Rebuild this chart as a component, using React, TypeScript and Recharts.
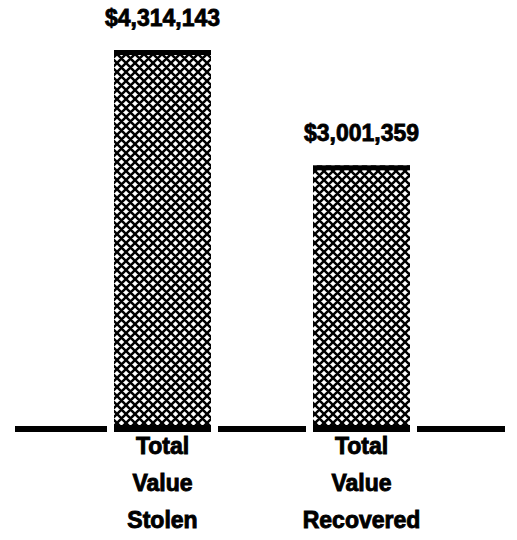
import { Bar, BarChart, LabelList, ReferenceLine, XAxis, YAxis } from 'recharts'

const categories = ['Total Value Stolen', 'Total Value Recovered']
const values = [4314143, 3001359]

const data = categories.map((name, i) => ({ name, value: values[i] }))

const FONT = '"Liberation Sans", Arial, Helvetica, sans-serif'

const fmt = (v: number) => `$${v.toLocaleString('en-US')}`

// crosshatched bar with a heavy black cap and foot; white knockout breaks the baseline
function HatchBar(props: any) {
  const { x, y, width, height, index } = props
  const id = `xhatch-${index}`
  return (
    <g>
      <defs>
        <pattern id={id} patternUnits="userSpaceOnUse" width={9} height={9}>
          <rect width={9} height={9} fill="#fff" />
          <path
            d="M-2,2 L2,-2 M0,9 L9,0 M7,11 L11,7 M-2,7 L2,11 M0,0 L9,9 M7,-2 L11,2"
            stroke="#000"
            strokeWidth={2.5}
          />
        </pattern>
      </defs>
      <rect x={x - 7} y={y + height - 6} width={width + 14} height={12} fill="#fff" />
      <rect x={x} y={y} width={width} height={height} fill={`url(#${id})`} />
      <rect x={x} y={y} width={width} height={5} fill="#000" />
      <rect x={x} y={y + height - 4} width={width} height={7} fill="#000" />
    </g>
  )
}

function StackTick(props: any) {
  const { x, y, payload } = props
  const words = String(payload.value).split(' ')
  return (
    <text
      x={x}
      y={y}
      textAnchor="middle"
      fill="#000"
      stroke="#000"
      strokeWidth={0.9}
      fontFamily={FONT}
      fontWeight={700}
      fontSize={23}
    >
      {words.map((w, i) => (
        <tspan key={w + i} x={x} dy={i === 0 ? 25 : 37}>
          {w}
        </tspan>
      ))}
    </text>
  )
}

export default function App() {
  return (
    <div style={{ position: 'absolute', left: 0, top: 0, background: '#fff' }}>
      <BarChart
        width={517}
        height={540}
        data={data}
        margin={{ top: 50, right: 12, left: 15, bottom: 11 }}
        barSize={97}
      >
        <XAxis
          dataKey="name"
          height={100}
          padding={{ left: 48, right: 44 }}
          axisLine={false}
          tickLine={false}
          tickSize={0}
          tickMargin={0}
          interval={0}
          tick={<StackTick />}
        />
        <YAxis hide domain={[0, 'dataMax']} />
        <ReferenceLine y={0} stroke="#000" strokeWidth={6} zIndex={-10} />
        <Bar dataKey="value" shape={<HatchBar />} isAnimationActive={false} zIndex={600}>
          <LabelList
            dataKey="value"
            position="top"
            offset={24}
            formatter={(v: any) => fmt(Number(v))}
            fill="#000"
            stroke="#000"
            strokeWidth={0.8}
            fontFamily={FONT}
            fontWeight={700}
            fontSize={23}
          />
        </Bar>
      </BarChart>
    </div>
  )
}
